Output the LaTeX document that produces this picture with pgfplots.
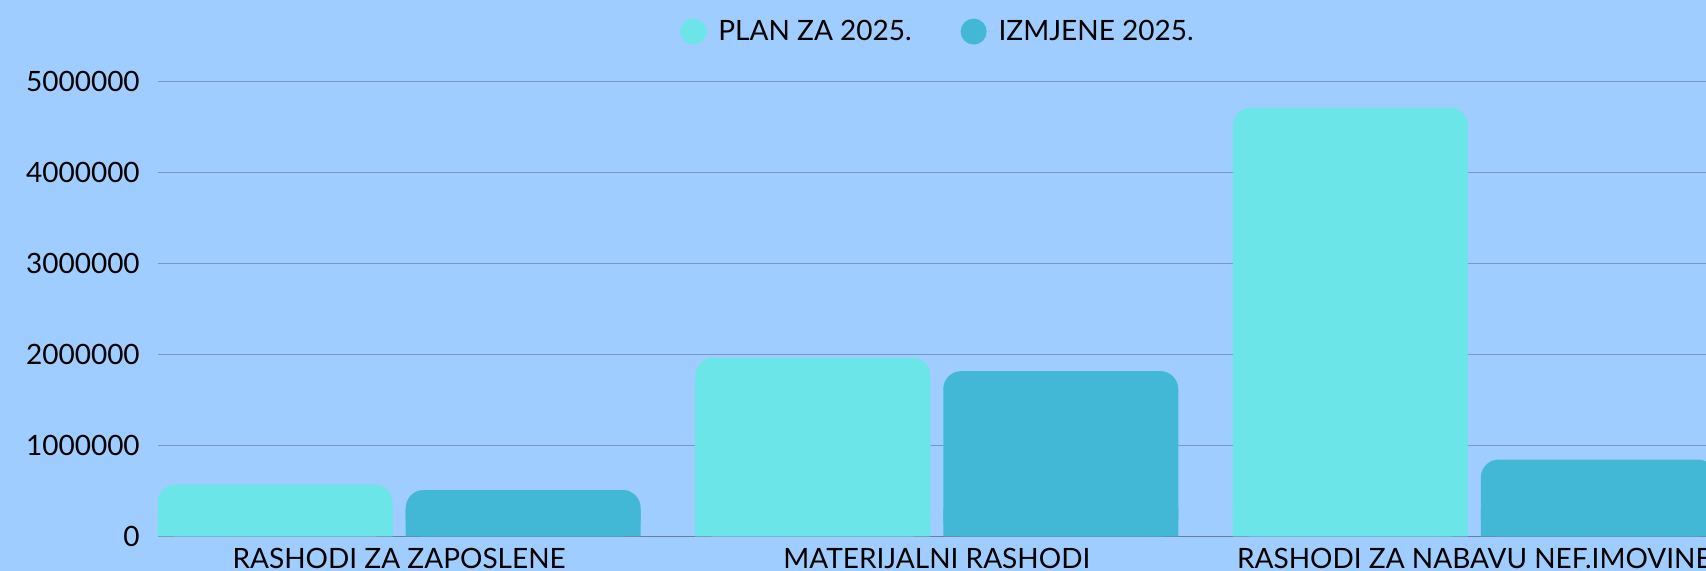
\documentclass[border=0pt]{standalone}
\usepackage{pgfplots}
\pgfplotsset{compat=1.18}
\usepackage{fontspec}
\setmainfont{Lato}
\definecolor{bgc}{HTML}{9FCDFF}
\definecolor{planc}{HTML}{6CE5E8}
\definecolor{izmc}{HTML}{42B7D6}
\definecolor{gridc}{HTML}{7898C0}
\definecolor{zeroc}{HTML}{6C7F9A}
\begin{document}
\begin{tikzpicture}
\fill[bgc] (0,0) rectangle (853pt,285.5pt);
\begin{axis}[
  at={(78.9pt,17.3pt)}, anchor=south west,
  scale only axis, width=774.1pt, height=227.4pt,
  xmin=-0.449, xmax=2.431, ymin=0, ymax=5000000,
  ybar=6.5pt, bar width=117.5pt,
  axis line style={draw=none},
  tick style={draw=none}, major tick length=0pt,
  xtick={0,1,2},
  xticklabels={RASHODI ZA ZAPOSLENE, MATERIJALNI RASHODI, RASHODI ZA NABAVU NEF.IMOVINE},
  ytick={1000000,2000000,3000000,4000000,5000000},
  extra y ticks={0},
  extra y tick style={grid style={color=zeroc, line width=0.8pt}},
  ymajorgrids, grid style={color=gridc, line width=0.7pt},
  scaled y ticks=false,
  yticklabel style={/pgf/number format/fixed, /pgf/number format/1000 sep={}, /pgf/number format/assume math mode=true, xshift=-5.5pt},
  ticklabel style={font=\fontsize{14}{16}\selectfont, text=black},
  xticklabel style={yshift=-2.5pt},
  legend style={at={(0.3373,1.11)}, anchor=west, draw=none, fill=none, inner sep=0pt,
    legend columns=2, font=\fontsize{14}{16}\selectfont,
    /tikz/every even column/.append style={column sep=22.5pt}},
  legend image code/.code={\fill (6.5pt,0pt) circle (6.5pt); \path (0pt,0pt) -- (17pt,0pt);},
]
\addplot[fill=planc, draw=none, rounded corners=9pt, bar shift=-62pt] coordinates {(0,570000) (1,1963000) (2,4713000)};
\addlegendentry{PLAN ZA 2025.}
\addplot[fill=izmc, draw=none, rounded corners=9pt, bar shift=62pt] coordinates {(0,510000) (1,1817000) (2,845000)};
\addlegendentry{IZMJENE 2025.}
\addplot[fill=planc, draw=none, bar shift=-62pt, forget plot, y filter/.expression={min(y,300000)}] coordinates {(0,570000) (1,1963000) (2,4713000)};
\addplot[fill=izmc, draw=none, bar shift=62pt, forget plot, y filter/.expression={min(y,300000)}] coordinates {(0,510000) (1,1817000) (2,845000)};
\end{axis}
\pgfresetboundingbox
\useasboundingbox (0,0) rectangle (853pt,285.5pt);
\end{tikzpicture}
\end{document}
